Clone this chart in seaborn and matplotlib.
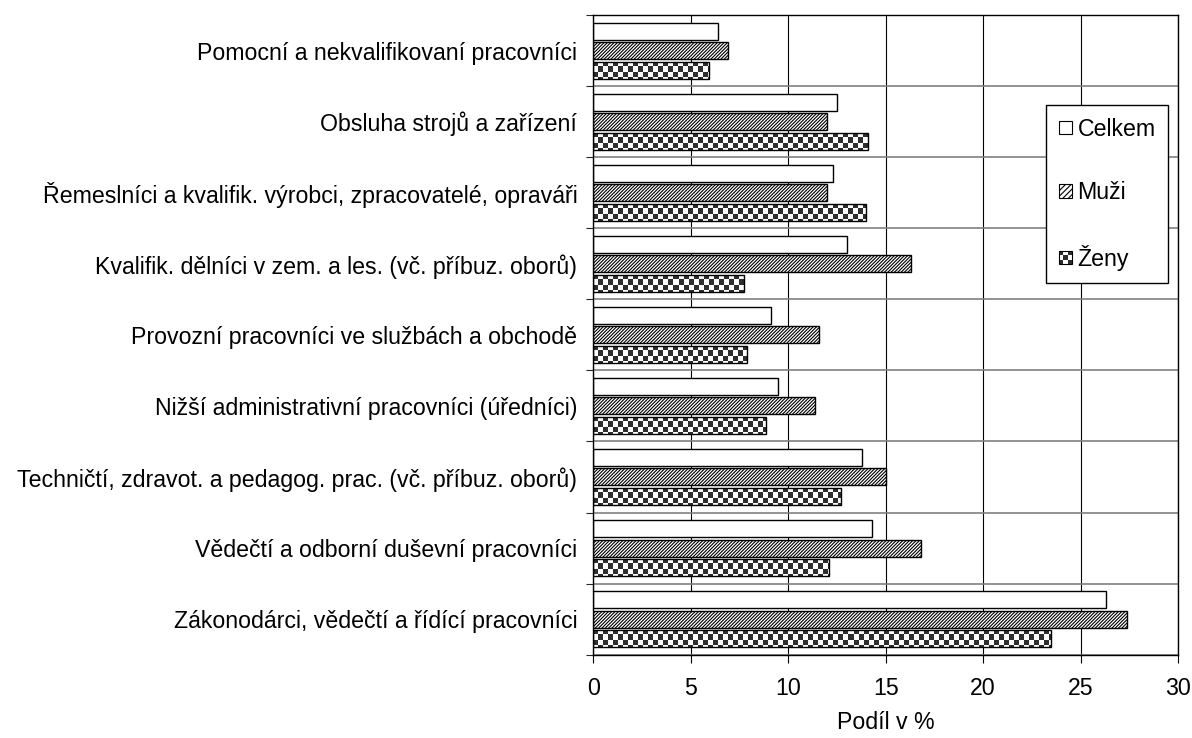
import numpy as np
import pandas as pd
import matplotlib
matplotlib.use("Agg")
import matplotlib.pyplot as plt
import seaborn as sns
from matplotlib.patches import Patch, Rectangle
from matplotlib.legend_handler import HandlerBase

# Occupational groups (top to bottom) and shares in %
categories = [
    "Pomocní a nekvalifikovaní pracovníci",
    "Obsluha strojů a zařízení",
    "Řemeslníci a kvalifik. výrobci, zpracovatelé, opraváři",
    "Kvalifik. dělníci v zem. a les. (vč. příbuz. oborů)",
    "Provozní pracovníci ve službách a obchodě",
    "Nižší administrativní pracovníci (úředníci)",
    "Techničtí, zdravot. a pedagog. prac. (vč. příbuz. oborů)",
    "Vědečtí a odborní duševní pracovníci",
    "Zákonodárci, vědečtí a řídící pracovníci",
]
series = ["Celkem", "Muži", "Ženy"]
celkem = [6.4, 12.5, 12.3, 13.0, 9.1, 9.5, 13.8, 14.3, 26.3]
muzi = [6.9, 12.0, 12.0, 16.3, 11.6, 11.4, 15.0, 16.8, 27.4]
zeny = [5.95, 14.1, 14.0, 7.75, 7.9, 8.85, 12.7, 12.1, 23.5]
x_ticks = [0, 5, 10, 15, 20, 25, 30]
x_label = "Podíl v %"

sns.set_style("white")
plt.rcParams["font.family"] = ["Liberation Sans", "DejaVu Sans"]
plt.rcParams["text.color"] = "black"
plt.rcParams["hatch.color"] = "#1a1a1a"
plt.rcParams["hatch.linewidth"] = 0.8

FS = 16.7
DARK = "#2e2e2e"

df = pd.DataFrame({
    "category": categories * 3,
    "series": [s for s in series for _ in categories],
    "value": celkem + muzi + zeny,
})

fig = plt.figure(figsize=(11.92, 7.38), dpi=100)
ax = fig.add_axes([0.4977, 0.1129, 0.4906, 0.8668])

sns.barplot(
    data=df, x="value", y="category", hue="series",
    order=categories, hue_order=series, orient="h",
    palette=["white"] * 3, edgecolor="black", linewidth=1.0,
    width=0.823, gap=0.128, errorbar=None, legend=False, ax=ax,
)

ax.set_xlim(0, 30)
ax.set_ylim(len(categories) - 0.5, -0.5)
ax.set_xticks(x_ticks)
ax.set_yticks(np.arange(-0.5, len(categories), 1), minor=True)
ax.set_axisbelow(True)

# Dense diagonal hatch for men
for bar in ax.containers[1]:
    bar.set_hatch("//////////")

# Checkerboard fill for women, clipped to each bar
xlim, ylim = ax.get_xlim(), ax.get_ylim()
px_x = ax.transData.transform((1, 0))[0] - ax.transData.transform((0, 0))[0]
px_y = abs(ax.transData.transform((0, 1))[1] - ax.transData.transform((0, 0))[1])
cell = 5.0
cw, ch = cell / px_x, cell / px_y
for bar in ax.containers[2]:
    x0, y0 = bar.get_x(), bar.get_y()
    w, h = bar.get_width(), bar.get_height()
    ncol = int(np.ceil(w / cw)) + 1
    nrow = int(np.ceil(h / ch)) + 1
    grid = (np.add.outer(np.arange(nrow), np.arange(ncol)) % 2).astype(float)
    im = ax.imshow(
        grid, cmap=matplotlib.colors.ListedColormap([DARK, "white"]),
        extent=(x0, x0 + ncol * cw, y0 + nrow * ch, y0),
        aspect="auto", interpolation="nearest", zorder=bar.get_zorder() - 0.01,
    )
    im.set_clip_path(bar)
    bar.set_facecolor("none")
ax.set_xlim(xlim)
ax.set_ylim(ylim)

# Grid and axes styling
ax.xaxis.grid(True, which="major", color="black", linewidth=0.8)
ax.yaxis.grid(False, which="major")
ax.yaxis.grid(True, which="minor", color="#808080", linewidth=1.2)
for sp in ax.spines.values():
    sp.set_visible(True)
    sp.set_color("black")
    sp.set_linewidth(1.0)

ax.tick_params(axis="x", which="major", direction="out", length=6, width=0.8,
               pad=10, labelsize=FS, colors="black", bottom=True)
ax.tick_params(axis="y", which="major", length=0, pad=11.5, labelsize=FS,
               colors="black", left=True)
ax.tick_params(axis="y", which="minor", direction="out", length=5, width=0.8,
               left=True)
ax.set_ylabel("")
ax.set_xlabel(x_label, fontsize=FS, labelpad=8, color="black")


class CheckerHandler(HandlerBase):
    def create_artists(self, legend, orig_handle, xdescent, ydescent,
                       width, height, fontsize, trans):
        n = 3
        arts = []
        sw, sh = width / n, height / n
        for i in range(n):
            for j in range(n):
                c = DARK if (i + j) % 2 == 0 else "white"
                arts.append(Rectangle((-xdescent + i * sw, -ydescent + j * sh),
                                      sw, sh, facecolor=c, edgecolor="none",
                                      transform=trans))
        arts.append(Rectangle((-xdescent, -ydescent), width, height,
                              facecolor="none", edgecolor="black", lw=0.8,
                              transform=trans))
        return arts


h_c = Patch(facecolor="white", edgecolor="black", linewidth=0.8)
h_m = Patch(facecolor="white", edgecolor="black", linewidth=0.8, hatch="//////")
h_z = Patch(facecolor="white", edgecolor="black", linewidth=0.8)
leg = ax.legend(
    handles=[h_c, h_m, h_z], labels=series,
    handler_map={h_z: CheckerHandler()},
    loc="center", bbox_to_anchor=(0.879, 0.720), fontsize=FS,
    frameon=True, fancybox=False, framealpha=1, edgecolor="black",
    borderpad=0.55, labelspacing=1.75, handlelength=0.57, handleheight=0.52,
    handletextpad=0.22,
)
leg.get_frame().set_linewidth(1.0)
for t in leg.get_texts():
    t.set_color("black")

fig.savefig("out.png", dpi=100)
